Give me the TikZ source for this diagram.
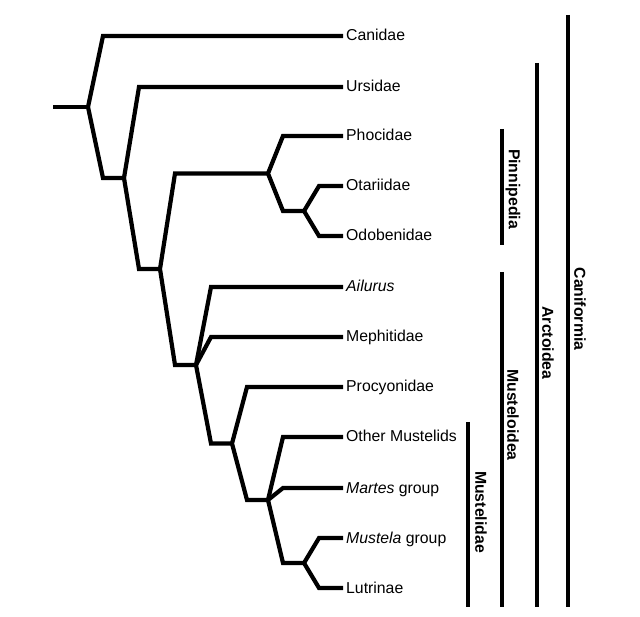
\documentclass[tikz,border=0pt]{standalone}
\usepackage{fontspec}
\setmainfont{Liberation Sans}

\tikzset{
  branch/.style={line width=4.2pt},
  % slant up/down from the parent, then straight on to the child
  elbow/.style={to path={-- ([xshift=15pt]\tikztostart |- \tikztotarget) -- (\tikztotarget)}},
  into/.style={to path={-- ([xshift=15pt]\tikztotarget |- \tikztostart) -- (\tikztotarget)}},
  taxon/.style={anchor=west,inner xsep=3pt,inner ysep=0pt,
    font=\fontsize{15.8}{18}\selectfont,text height=11pt,text depth=1pt},
  bar/.style={line width=4.8pt},
  clade/.style={rotate=-90,inner sep=0pt,font=\fontsize{15.8}{18}\selectfont\bfseries}
}

\begin{document}
\begin{tikzpicture}[x=1pt,y=-1pt]
        \useasboundingbox (0,0) rectangle (640,617);

        % taxa
        \node[taxon] (canidae) at (343,36) {Canidae};
        \node[taxon] (ursidae) at (343,87) {Ursidae};
        \node[taxon] (phocidae) at (343,136) {Phocidae};
        \node[taxon] (otariidae) at (343,186) {Otariidae};
        \node[taxon] (odobenidae) at (343,236) {Odobenidae};
        \node[taxon] (ailurus) at (343,287) {\textit{Ailurus}};
        \node[taxon] (mephitidae) at (343,337) {Mephitidae};
        \node[taxon] (procyonidae) at (343,387) {Procyonidae};
        \node[taxon] (othermust) at (343,437) {Other Mustelids};
        \node[taxon] (martes) at (343,488) {\textit{Martes} group};
        \node[taxon] (mustela) at (343,538) {\textit{Mustela} group};
        \node[taxon] (lutrinae) at (343,588) {Lutrinae};

        % inner nodes
        \coordinate (root) at (53,107);
        \coordinate (n1) at (88,107);
        \coordinate (n2) at (124,178);
        \coordinate (n3) at (160,269);
        \coordinate (n4) at (268,173.5);
        \coordinate (n5) at (304,211);
        \coordinate (n6) at (196,365);
        \coordinate (n7) at (232,443.5);
        \coordinate (n8) at (268,500);
        \coordinate (n9) at (304,563);

        % tree
        \draw[branch,line width=3.4pt] (root) -- (n1);
        \draw[branch] (canidae) to[into] (n1) to[elbow] (n2);
        \draw[branch] (ursidae) to[into] (n2) to[elbow] (n3);
        \draw[branch] (n4) to[into] (n3) to[elbow] (n6);
        \draw[branch] (phocidae) to[into] (n4) to[elbow] (n5);
        \draw[branch] (otariidae) to[into] (n5) to[elbow] (odobenidae);
        \draw[branch] (ailurus) to[into] (n6) to[elbow] (n7);
        \draw[branch] (mephitidae) to[into] (n6);
        \draw[branch] (procyonidae) to[into] (n7) to[elbow] (n8);
        \draw[branch] (othermust) to[into] (n8) to[elbow] (n9);
        \draw[branch] (martes) to[into] (n8);
        \draw[branch] (mustela) to[into] (n9) to[elbow] (lutrinae);

        % clades
        \draw[bar] (502,129) -- (502,245);
        \node[clade] (pinnipedia) at (513,189) {Pinnipedia};
        \draw[bar] (468,422) -- (468,607);
        \node[clade] (mustelidae) at (481,512) {Mustelidae};
        \draw[bar] (502,272) -- (502,607);
        \node[clade] (musteloidea) at (513,415) {Musteloidea};
        \draw[bar] (537,63) -- (537,607);
        \node[clade] (arctoidea) at (548,343) {Arctoidea};
        \draw[bar] (568,15) -- (568,607);
        \node[clade] (caniformia) at (580,309) {Caniformia};
\end{tikzpicture}
\end{document}
